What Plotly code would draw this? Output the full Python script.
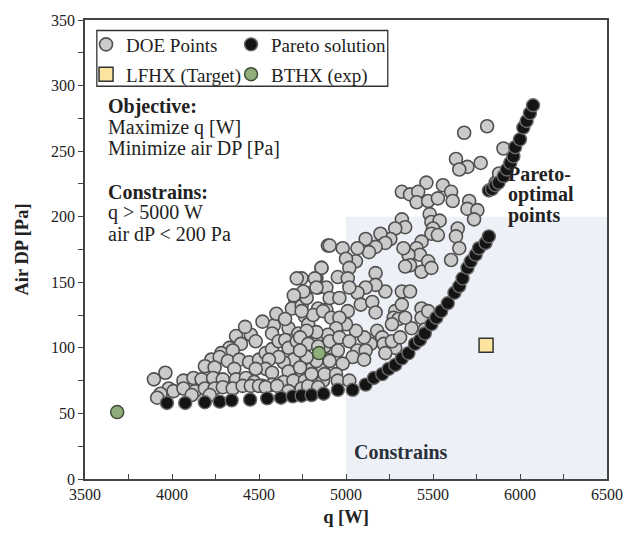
import plotly.graph_objects as go

# Design-of-experiments samples: heat duty q [W] and air-side pressure drop [Pa]
doe_q = [
    4896, 4859, 4745, 4830, 4840, 4764, 4708, 4689, 4745, 4840, 4887, 4764, 4783, 4585, 4670,
    4726, 4575, 4368, 4453, 4481, 4396, 4330, 4283, 4349, 4226, 4274, 4189, 4245, 4321, 4387,
    4358, 4443, 4500, 4538, 4575, 4613, 4651, 4670, 4717, 4764, 4802, 4840, 4877, 4896, 4811,
    4755, 4698, 4642, 4613, 4557, 4538, 4481, 4575, 4670, 4745, 4802, 4868, 3962, 3896, 4066,
    4123, 4170, 4236, 4292, 4368, 4425, 4472, 4519, 4575, 4642, 4698, 4764, 4830, 4868, 3981,
    3934, 4009, 4066, 4132, 4189, 4245, 4292, 4349, 4406, 4453, 4500, 4538, 4604, 4670, 4745,
    4783, 4840, 3915, 4113, 4217,
    5811, 5679, 5632, 5698, 5651, 5774, 5462, 5557, 5604, 5321, 5368, 5415, 5406, 5472, 5528,
    5613, 5708, 5698, 5755, 5736, 5481, 5491, 5538, 5321, 5340, 5283, 5500, 5642, 5632, 5651,
    5604, 5491, 5528, 5434, 5406, 5425, 5359, 5330, 5368, 5340, 5472, 5434, 5491, 5255, 5198,
    5226, 5170, 5113, 5132, 5066, 4981, 4906, 5057, 5000, 5019, 4859, 4821, 4887, 4830, 4774,
    4953, 5010, 5170, 5226, 5170, 5113, 5066, 5019, 4906, 4962, 4811, 4868, 4745, 4755, 4717,
    4915, 5010, 5085, 5151, 5170, 5283, 5321, 5368, 5434, 5321, 5274, 5302, 5264, 5179, 5208,
    5142, 5104, 5057, 5000, 4962, 4943, 4896, 4830, 4774, 4736, 4783, 4840, 4906, 4962, 5019,
    4953, 5066, 5113, 5038, 4981, 4906, 4830, 4774, 4736, 4736, 4802, 4877, 4943, 4953, 4840,
    5019, 5104, 5217, 5283, 5226, 5264, 5311, 5434, 5472, 5453, 5377, 5340,
    5905, 5860, 5880, 4520, 4600, 4650, 4420, 4700,
]
doe_dp = [
    178, 161, 153, 153, 146, 142, 137, 130, 132, 130, 129, 124, 118, 117, 115,
    111, 111, 109, 110, 105, 103, 100, 96, 98, 91, 93, 86, 85, 90, 91,
    84, 89, 91, 96, 99, 105, 106, 100, 105, 101, 108, 109, 101, 91, 91,
    90, 91, 89, 93, 91, 84, 84, 81, 82, 81, 84, 84, 81, 76, 75,
    77, 76, 77, 76, 76, 77, 74, 71, 72, 74, 75, 75, 74, 75, 69,
    65, 67, 69, 67, 69, 69, 70, 69, 71, 71, 71, 70, 71, 67, 69,
    71, 69, 62, 64, 64,
    269, 264, 244, 238, 236, 241, 226, 224, 219, 219, 217, 219, 211, 212, 214,
    212, 212, 206, 205, 198, 202, 196, 197, 198, 192, 191, 191, 191, 185, 176,
    167, 187, 186, 181, 176, 171, 171, 176, 163, 162, 166, 158, 161, 183, 187,
    180, 177, 183, 173, 176, 176, 178, 166, 168, 161, 161, 153, 146, 146, 138,
    154, 153, 157, 143, 148, 146, 142, 146, 138, 138, 125, 128, 128, 143, 153,
    123, 128, 133, 135, 127, 128, 143, 143, 130, 133, 123, 122, 118, 113, 108,
    103, 108, 113, 118, 123, 115, 110, 112, 113, 108, 103, 101, 105, 108, 105,
    98, 98, 98, 93, 88, 90, 90, 93, 98, 85, 80, 80, 80, 75, 70,
    75, 91, 103, 100, 96, 105, 108, 123, 128, 114, 115, 123,
    252, 226, 233, 120, 126, 122, 116, 140,
]

# Non-dominated (Pareto) designs
pareto_q = [
    3971, 4076, 4189, 4274, 4343, 4449, 4547, 4626, 4694, 4745, 4802, 4871, 4953, 5038,
    5113, 5160, 5208, 5245, 5283, 5321, 5359, 5396, 5425, 5453, 5491, 5519, 5547, 5585,
    5623, 5651, 5670, 5698, 5717, 5745, 5764, 5802, 5821,
    5821, 5839, 5858, 5877, 5906, 5924, 5944, 5962, 5972, 6000, 6019, 6038, 6057, 6075,
]
pareto_dp = [
    58, 58, 58.5, 59, 60, 60.5, 61.5, 62, 63, 63.5, 64, 65, 68, 68,
    72, 77, 80, 84, 87, 92, 96, 103, 106, 111, 118, 123, 128, 134,
    142, 147, 153, 161, 166, 171, 176, 180, 185,
    220, 221, 224, 226, 231, 236, 241, 246, 253, 259, 268, 273, 279, 285,
]

# Reference heat exchangers
lfhx_q = [5805]
lfhx_dp = [102]
bthx_q = [3685, 4845]
bthx_dp = [51, 96]

SERIF = "Liberation Serif"
INK = "#222222"

fig = go.Figure()

fig.add_trace(go.Scatter(
    x=doe_q, y=doe_dp, mode="markers", name="DOE Points", legend="legend",
    marker=dict(size=13, color="#cbcbcb", line=dict(color="#505050", width=1.6)),
))
fig.add_trace(go.Scatter(
    x=pareto_q, y=pareto_dp, mode="markers", name="Pareto solution", legend="legend2",
    marker=dict(size=13, color="#141414", line=dict(color="#6a6a6a", width=1.4)),
))
fig.add_trace(go.Scatter(
    x=lfhx_q, y=lfhx_dp, mode="markers", name="LFHX (Target)", legend="legend3",
    marker=dict(size=14, symbol="square", color="#fde3a0", line=dict(color="#333333", width=1.5)),
))
fig.add_trace(go.Scatter(
    x=bthx_q, y=bthx_dp, mode="markers", name="BTHX (exp)", legend="legend4",
    marker=dict(size=13, color="#8fae7c", line=dict(color="#3f4f37", width=1.5)),
))

# Feasible region: q > 5000 W and dP < 200 Pa
fig.add_shape(type="rect", xref="x", yref="y", x0=5000, x1=6500, y0=0, y1=200,
              fillcolor="#edf1f7", line=dict(width=0), layer="below")

# Frame around the legend entries
fig.add_shape(type="rect", xref="x", yref="y", x0=3568, x1=5240, y0=299.5, y1=342,
              line=dict(color="#333333", width=1.3), fillcolor="rgba(0,0,0,0)", layer="above")

legend_common = dict(orientation="h", xanchor="left", yanchor="top", bgcolor="rgba(0,0,0,0)",
                     font=dict(family=SERIF, size=19, color=INK), itemwidth=30)

col1, col2 = 0.002, (233 - 85) / 529
row1, row2 = 0.988, 0.923

fig.update_layout(
    width=635, height=540,
    margin=dict(l=85, r=21, t=17, b=61),
    paper_bgcolor="white", plot_bgcolor="white",
    font=dict(family=SERIF, size=16, color=INK),
    showlegend=True,
    legend=dict(x=col1, y=row1, **legend_common),
    legend2=dict(x=col2, y=row1, **legend_common),
    legend3=dict(x=col1, y=row2, **legend_common),
    legend4=dict(x=col2, y=row2, **legend_common),
    xaxis=dict(
        range=[3500, 6500], dtick=500, tick0=3500, showgrid=False, zeroline=False,
        showline=True, mirror=True, linecolor="#444444", linewidth=1.5,
        ticks="inside", ticklen=5, tickcolor="#444444",
        minor=dict(dtick=250, ticks="inside", ticklen=5, tickcolor="#444444"),
        tickfont=dict(family=SERIF, size=16, color=INK),
        title=dict(text="<b>q [W]</b>", font=dict(family=SERIF, size=18.5, color=INK), standoff=8),
    ),
    yaxis=dict(
        range=[0, 350], dtick=50, showgrid=False, zeroline=False,
        showline=True, mirror=True, linecolor="#444444", linewidth=1.5,
        ticks="outside", ticklen=5, tickcolor="#444444",
        minor=dict(dtick=25, ticks="outside", ticklen=5, tickcolor="#444444"),
        tickfont=dict(family=SERIF, size=16, color=INK),
        title=dict(text="<b>Air DP [Pa]</b>", font=dict(family=SERIF, size=18.5, color=INK), standoff=18),
    ),
)

text_lines = [
    ("<b>Objective:</b>", 104),
    ("Maximize q [W]", 125),
    ("Minimize air DP [Pa]", 146),
    ("<b>Constrains:</b>", 190),
    ("q &gt; 5000 W", 211),
    ("air dP &lt; 200 Pa", 232),
]
for txt, py in text_lines:
    fig.add_annotation(text=txt, xref="paper", yref="paper", x=(106 - 85) / 529,
                       y=(479 - py) / 462, xanchor="left", yanchor="middle", showarrow=False,
                       align="left", font=dict(family=SERIF, size=20, color=INK))

for txt, py in [("<b>Pareto-</b>", 172), ("<b>optimal</b>", 193), ("<b>points</b>", 214)]:
    fig.add_annotation(text=txt, xref="paper", yref="paper", x=(512 - 85) / 529,
                       y=(479 - py) / 462, xanchor="left", yanchor="middle", showarrow=False,
                       align="left", font=dict(family=SERIF, size=20, color=INK))

fig.add_annotation(text="<b>Constrains</b>", xref="paper", yref="paper", x=(356 - 85) / 529,
                   y=(479 - 452) / 462, xanchor="left", yanchor="middle", showarrow=False,
                   font=dict(family=SERIF, size=20, color="#2a2f3a"))

fig.write_html("out.html")
